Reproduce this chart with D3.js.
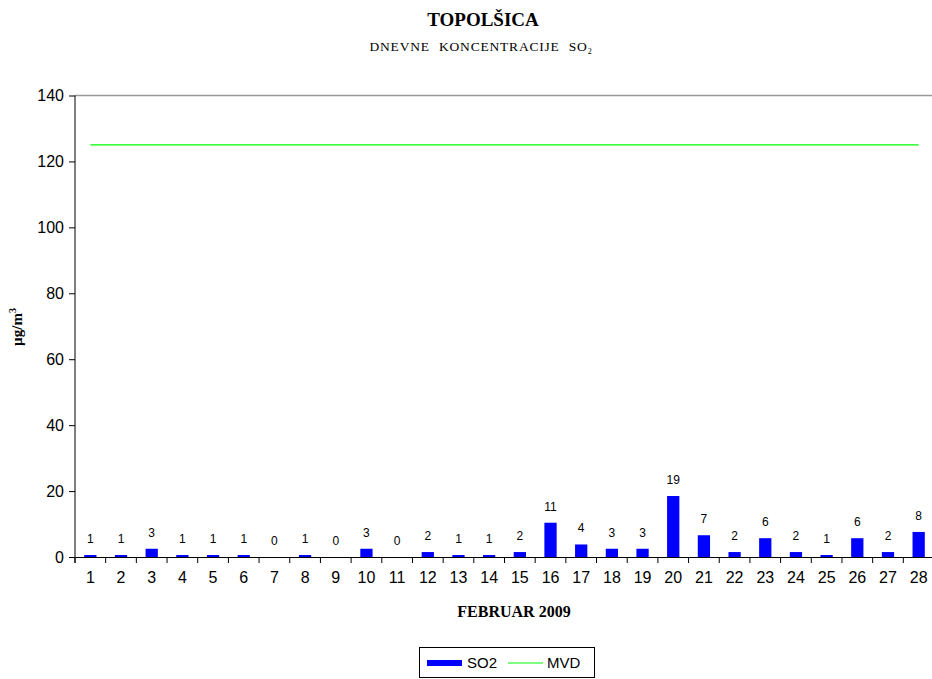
<!DOCTYPE html>
<html>
<head>
<meta charset="utf-8">
<script src="https://cdn.jsdelivr.net/npm/d3@7"></script>
<style>
    body { margin: 0; background: #fff; }
    .tick text { font-family: Arial, "Liberation Sans", sans-serif; }
</style>
</head>
<body>
<script>
//daily SO2 values, february 2009
var days = [1,2,3,4,5,6,7,8,9,10,11,12,13,14,15,16,17,18,19,20,21,22,23,24,25,26,27,28];
var so2 = [0.6,0.6,2.5,0.6,0.6,0.6,0,0.6,0,2.5,0,1.5,0.6,0.6,1.5,10.4,3.8,2.5,2.5,18.5,6.6,1.5,5.7,1.5,0.6,5.7,1.5,7.6];
var labels = [1,1,3,1,1,1,0,1,0,3,0,2,1,1,2,11,4,3,3,19,7,2,6,2,1,6,2,8];
var mvd = 125;
var yTicks = [0,20,40,60,80,100,120,140];

window.onload = function(){
    var w = 932, h = 679;
    var svg = d3.select("body")
        .append("svg")
        .attr("width", w)
        .attr("height", h)
        .attr("class", "container");

    /**** scales ****/
    var x = d3.scaleBand()
        .domain(days)
        .range([75, 934]);
    var y = d3.scaleLinear()
        .domain([0, 140])
        .range([557, 95.5]);

    //gray top frame line
    svg.append("line")
        .attr("x1", 75).attr("x2", 934)
        .attr("y1", y(140)).attr("y2", y(140))
        .style("stroke", "#999")
        .style("stroke-width", 1.5);

    /**** axes ****/
    var yAxis = d3.axisLeft(y)
        .tickValues(yTicks)
        .tickSize(6)
        .tickSizeOuter(0)
        .tickPadding(5);
    var gy = svg.append("g")
        .attr("class", "axis")
        .attr("transform", "translate(75,0)")
        .call(yAxis);
    gy.selectAll("text").style("font-size", "16px").attr("fill", "#000");
    gy.select(".domain").attr("d", "M0," + y(140) + "V" + (y(0) + 6)).style("stroke", "#000");

    var xAxis = d3.axisBottom(x)
        .tickSize(0)
        .tickPadding(15);
    var gx = svg.append("g")
        .attr("class", "axis")
        .attr("transform", "translate(0," + y(0) + ")")
        .call(xAxis);
    gx.selectAll("text").style("font-size", "16px").attr("fill", "#000");
    gx.select(".domain").style("stroke", "#000");

    //category boundary ticks
    var bounds = days.map(function(d){ return x(d); }).concat([x.range()[1]]);
    gx.selectAll(".btick")
        .data(bounds)
        .enter()
        .append("line")
        .attr("class", "btick")
        .attr("x1", function(d){ return d; })
        .attr("x2", function(d){ return d; })
        .attr("y1", 0)
        .attr("y2", 6)
        .style("stroke", "#000");

    /**** bars ****/
    var bw = x.bandwidth() * 0.4;
    svg.selectAll(".bar")
        .data(so2)
        .enter()
        .append("rect")
        .attr("class", "bar")
        .attr("x", function(d, i){ return x(days[i]) + (x.bandwidth() - bw) / 2; })
        .attr("y", function(d){ return y(d); })
        .attr("width", bw)
        .attr("height", function(d){ return y(0) - y(d); })
        .style("fill", "#0000FF");

    //value labels
    svg.selectAll(".vlabel")
        .data(so2)
        .enter()
        .append("text")
        .attr("class", "vlabel")
        .attr("text-anchor", "middle")
        .attr("x", function(d, i){ return x(days[i]) + x.bandwidth() / 2; })
        .attr("y", function(d){ return y(d) - 12; })
        .style("font-family", "Arial, 'Liberation Sans', sans-serif")
        .style("font-size", "12px")
        .text(function(d, i){ return labels[i]; });

    //MVD limit line
    svg.append("line")
        .attr("x1", x(1) + x.bandwidth() / 2)
        .attr("x2", x(28) + x.bandwidth() / 2)
        .attr("y1", y(mvd))
        .attr("y2", y(mvd))
        .style("stroke", "#00FF00")
        .style("stroke-width", 1.2);

    /**** text ****/
    svg.append("text")
        .attr("text-anchor", "middle")
        .attr("x", 483)
        .attr("y", 26)
        .style("font-family", "'Liberation Serif', 'Times New Roman', serif")
        .style("font-weight", "bold")
        .style("font-size", "19px")
        .text("TOPOLŠICA");

    var sub = svg.append("text")
        .attr("text-anchor", "middle")
        .attr("x", 481)
        .attr("y", 51)
        .style("font-family", "'Liberation Serif', 'Times New Roman', serif")
        .style("font-size", "13.5px")
        .style("letter-spacing", "0.8px")
        .style("word-spacing", "5px");
    sub.append("tspan").text("DNEVNE KONCENTRACIJE SO");
    sub.append("tspan").attr("dy", 3).style("font-size", "8px").text("2");

    svg.append("text")
        .attr("text-anchor", "middle")
        .attr("x", 514)
        .attr("y", 617)
        .style("font-family", "'Liberation Serif', 'Times New Roman', serif")
        .style("font-weight", "bold")
        .style("font-size", "16px")
        .text("FEBRUAR 2009");

    var ylab = svg.append("text")
        .attr("text-anchor", "middle")
        .attr("transform", "translate(22,327) rotate(-90)")
        .style("font-family", "'Liberation Serif', 'Times New Roman', serif")
        .style("font-weight", "bold")
        .style("font-size", "15px");
    ylab.append("tspan").text("µg/m");
    ylab.append("tspan").attr("dy", -6).style("font-size", "10px").text("3");

    /**** legend ****/
    var legend = svg.append("g").attr("class", "legend");
    legend.append("rect")
        .attr("x", 419.5).attr("y", 647.5)
        .attr("width", 175).attr("height", 30)
        .style("fill", "#fff")
        .style("stroke", "#000");
    legend.append("rect")
        .attr("x", 427).attr("y", 660)
        .attr("width", 35).attr("height", 6)
        .style("fill", "#0000FF");
    legend.append("text")
        .attr("x", 467).attr("y", 668)
        .style("font-family", "Arial, 'Liberation Sans', sans-serif")
        .style("font-size", "15px")
        .text("SO2");
    legend.append("line")
        .attr("x1", 508).attr("x2", 543)
        .attr("y1", 663).attr("y2", 663)
        .style("stroke", "#00FF00")
        .style("stroke-width", 1.2);
    legend.append("text")
        .attr("x", 547).attr("y", 668)
        .style("font-family", "Arial, 'Liberation Sans', sans-serif")
        .style("font-size", "15px")
        .text("MVD");
};
</script>
</body>
</html>
